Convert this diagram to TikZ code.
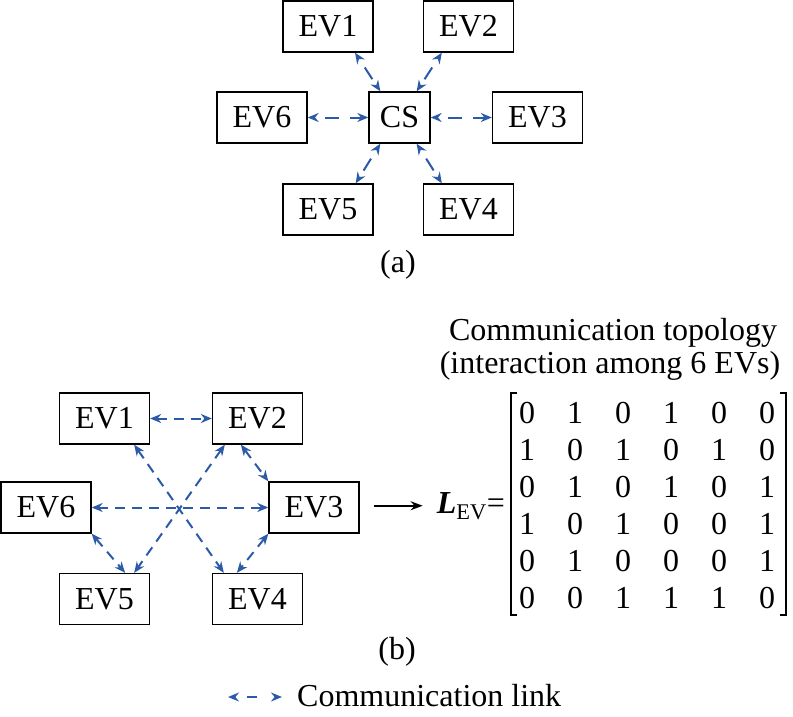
\documentclass[tikz,border=0pt]{standalone}
\usepackage{fontspec}
\setmainfont{Liberation Serif}
\usetikzlibrary{arrows.meta}
\definecolor{linkblue}{RGB}{43,91,168}
\tikzset{>=Stealth,every node/.style={font=\fontsize{32}{38}\selectfont},
  evbox/.style={draw,line width=1.3pt,minimum width=90pt,minimum height=51pt,inner sep=0pt},
  link/.style={linkblue,line width=2pt,dash pattern=on 10pt off 7pt,{Stealth[length=11pt,width=9pt]}-{Stealth[length=11pt,width=9pt]}},
  linka/.style={link,dash pattern=on 14pt off 11pt,dash phase=14pt},
  entry/.style={inner sep=0pt},
  txt/.style={inner sep=0pt}}

\begin{document}
\begin{tikzpicture}[x=1pt,y=-1pt]
\useasboundingbox (0,0) rectangle (793,717);
% (a) star
\node[evbox,minimum width=61pt] (cs) at (399.5,117.5) {CS};
\node[evbox] (a1) at (328,26.5) {EV1};
\node[evbox] (a2) at (468.5,26.5) {EV2};
\node[evbox] (a6) at (262,117.5) {EV6};
\node[evbox] (a3) at (537.5,117.5) {EV3};
\node[evbox] (a5) at (328,209.5) {EV5};
\node[evbox] (a4) at (468.5,209.5) {EV4};
\draw[linka] ([xshift=27pt]a1.south) -- ([xshift=12pt]cs.north west);
\draw[linka] ([xshift=19pt]a2.south west) -- ([xshift=-14pt]cs.north east);
\draw[linka] (a6) -- (cs);
\draw[linka] (cs) -- (a3);
\draw[linka] ([xshift=12pt]cs.south west) -- ([xshift=-18pt]a5.north east);
\draw[linka] ([xshift=-14pt]cs.south east) -- ([xshift=19pt]a4.north west);
\node[txt] (lbla) at (398,265) {(a)};
% (b) ring
\node[evbox] (b1) at (104.5,418.5) {EV1};
\node[evbox] (b2) at (257.5,418.5) {EV2};
\node[evbox] (b6) at (46,507.5) {EV6};
\node[evbox] (b3) at (314,507.5) {EV3};
\node[evbox] (b5) at (104.5,599) {EV5};
\node[evbox] (b4) at (257.5,599) {EV4};
\draw[link] (b1) -- (b2);
\draw[link] ([xshift=-16pt]b1.south east) -- ([xshift=12pt]b4.north west);
\draw[link] ([xshift=13pt]b2.south west) -- ([xshift=-16pt]b5.north east);
\draw[link] ([xshift=29pt]b2.south west) -- (b3.north west);
\draw[link] (b3.south west) -- ([xshift=25pt]b4.north west);
\draw[link] (b6.south east) -- ([xshift=-25pt]b5.north east);
\draw[link] (b6) -- (b3);
\node[txt] (lblb) at (397,652) {(b)};
% matrix
\node[txt,anchor=base] (top1) at (613,340) {Communication topology};
\node[txt,anchor=base] (top2) at (610,373) {(interaction among 6 EVs)};
\node[txt,anchor=base east] (lev) at (505,513) {{\bfseries\itshape L}\textsubscript{EV}=};
\draw[->,line width=1.8pt,shorten <=14pt,shorten >=14pt,-{Stealth[length=12pt,width=9pt]}] (b3.east |- lev.west) -- (lev.west);
\foreach \row [count=\i] in {{0,1,0,1,0,0},{1,0,1,0,1,0},{0,1,0,1,0,1},{1,0,1,0,0,1},{0,1,0,0,0,1},{0,0,1,1,1,0}}
  \foreach \v [count=\j] in \row
    \node[entry] (m\i\j) at ({479+48*\j},{376+37*\i}) {\v};
\draw[line width=1.3pt] (517,393) -- (511,393) -- (511,615) -- (517,615);
\draw[line width=1.3pt] (780,393) -- (786,393) -- (786,615) -- (780,615);
% legend
\coordinate (legA) at (228,697);
\coordinate (legB) at (282,697);
\draw[link,dash pattern=on 0pt off 12pt on 10pt off 30pt] (legA) -- (legB);
\node[txt,anchor=base west] (legtxt) at (297,706) {Communication link};
\end{tikzpicture}
\end{document}
